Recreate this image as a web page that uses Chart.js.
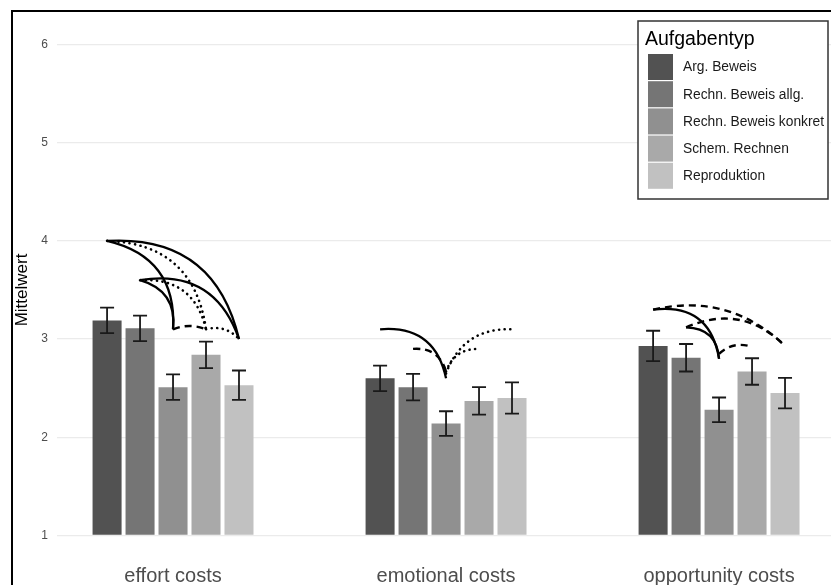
<!DOCTYPE html>
<html>
  <head>
    <meta charset="UTF-8" />
    <title>Mittelwerte nach Aufgabentyp</title>
    <style>
      html,
      body {
        margin: 0;
        padding: 0;
        background: #ffffff;
        overflow: hidden;
      }
    </style>
    <script src="https://cdn.jsdelivr.net/npm/chart.js"></script>
  </head>
  <body>
    <canvas id="chart" width="831" height="585"></canvas>
    <script>
      const categories = ["effort costs", "emotional costs", "opportunity costs"];
      const taskTypes = [
        "Arg. Beweis",
        "Rechn. Beweis allg.",
        "Rechn. Beweis konkret",
        "Schem. Rechnen",
        "Reproduktion",
      ];
      const argBeweis = [3.19, 2.6, 2.93];
      const rechnAllg = [3.11, 2.51, 2.81];
      const rechnKonkret = [2.51, 2.14, 2.28];
      const schemRechnen = [2.84, 2.37, 2.67];
      const reproduktion = [2.53, 2.4, 2.45];
      // halbe Länge der Fehlerbalken
      const argBeweisErr = [0.13, 0.13, 0.155];
      const rechnAllgErr = [0.13, 0.135, 0.14];
      const rechnKonkretErr = [0.13, 0.125, 0.125];
      const schemRechnenErr = [0.135, 0.14, 0.135];
      const reproduktionErr = [0.15, 0.16, 0.155];
      const yTicks = [1, 2, 3, 4, 5, 6];
      const greys = ["#525252", "#757575", "#909090", "#a9a9a9", "#c1c1c1"];

      // Bögen: [Kategorie, von Balken, von y, zu Balken, zu y, Linie, Krümmung]
      const arcs = [
        [0, 0, 4.0, 2, 3.1, "solid", 0.42],
        [0, 0, 4.0, 4, 3.0, "solid", 0.42],
        [0, 0, 4.0, 3, 3.1, "dotted", 0.42],
        [0, 1, 3.6, 2, 3.1, "solid", 0.42],
        [0, 1, 3.6, 4, 3.0, "solid", 0.42],
        [0, 1, 3.6, 3, 3.1, "dotted", 0.42],
        [0, 2, 3.1, 3, 3.1, "dashed", 0.2],
        [0, 3, 3.1, 4, 3.0, "dotted", 0.3],
        [1, 0, 3.1, 2, 2.6, "solid", 0.44],
        [1, 1, 2.9, 2, 2.67, "dashed", 0.4],
        [1, 2, 2.65, 4, 3.1, "dotted", 0.36],
        [1, 2, 2.67, 3, 2.9, "dotted", 0.36],
        [2, 0, 3.3, 2, 2.8, "solid", 0.48],
        [2, 0, 3.3, 4, 2.93, "dashed", 0.27],
        [2, 1, 3.12, 2, 2.8, "solid", 0.45],
        [2, 1, 3.12, 4, 2.93, "dashed", 0.34],
        [2, 2, 2.85, 3, 2.92, "dashed", 0.3],
      ];

      const series = [argBeweis, rechnAllg, rechnKonkret, schemRechnen, reproduktion];
      const errors = [argBeweisErr, rechnAllgErr, rechnKonkretErr, schemRechnenErr, reproduktionErr];
      const FONT = "'Liberation Sans', Arial, Helvetica, sans-serif";

      const errorBars = {
        id: "errorBars",
        afterDatasetsDraw(chart) {
          const ctx = chart.ctx;
          const y = chart.scales.y;
          ctx.save();
          ctx.strokeStyle = "#1a1a1a";
          ctx.lineWidth = 1.8;
          series.forEach((vals, i) => {
            chart.getDatasetMeta(i).data.forEach((bar, j) => {
              const top = y.getPixelForValue(vals[j] + errors[i][j]);
              const bot = y.getPixelForValue(vals[j] - errors[i][j]);
              ctx.beginPath();
              ctx.moveTo(bar.x, top);
              ctx.lineTo(bar.x, bot);
              ctx.moveTo(bar.x - 7, top);
              ctx.lineTo(bar.x + 7, top);
              ctx.moveTo(bar.x - 7, bot);
              ctx.lineTo(bar.x + 7, bot);
              ctx.stroke();
            });
          });
          ctx.restore();
        },
      };

      const curves = {
        id: "curves",
        afterDatasetsDraw(chart) {
          const ctx = chart.ctx;
          const y = chart.scales.y;
          ctx.save();
          ctx.strokeStyle = "#000000";
          arcs.forEach(([cat, from, fromY, to, toY, style, c]) => {
            const x1 = chart.getDatasetMeta(from).data[cat].x;
            const x2 = chart.getDatasetMeta(to).data[cat].x;
            const y1 = y.getPixelForValue(fromY);
            const y2 = y.getPixelForValue(toY);
            const dx = x2 - x1;
            const dy = y2 - y1;
            const cx = (x1 + x2) / 2 + dy * c;
            const cy = (y1 + y2) / 2 - dx * c;
            if (style === "dotted") {
              ctx.setLineDash([0.1, 5.5]);
              ctx.lineCap = "round";
              ctx.lineWidth = 2.6;
            } else if (style === "dashed") {
              ctx.setLineDash([7, 5]);
              ctx.lineCap = "butt";
              ctx.lineWidth = 2.4;
            } else {
              ctx.setLineDash([]);
              ctx.lineCap = "butt";
              ctx.lineWidth = 2.3;
            }
            ctx.beginPath();
            ctx.moveTo(x1, y1);
            ctx.quadraticCurveTo(cx, cy, x2, y2);
            ctx.stroke();
          });
          ctx.restore();
        },
      };

      const boxLegend = {
        id: "boxLegend",
        afterDraw(chart) {
          const ctx = chart.ctx;
          ctx.save();
          ctx.fillStyle = "#ffffff";
          ctx.fillRect(638, 21, 190, 178);
          ctx.strokeStyle = "#333333";
          ctx.lineWidth = 1.5;
          ctx.strokeRect(638, 21, 190, 178);
          ctx.fillStyle = "#000000";
          ctx.font = "19.5px " + FONT;
          ctx.textBaseline = "middle";
          ctx.fillText("Aufgabentyp", 645, 40);
          ctx.font = "13.8px " + FONT;
          chart.data.datasets.forEach((ds, i) => {
            const top = 54 + i * 27.2;
            ctx.fillStyle = ds.backgroundColor;
            ctx.fillRect(648, top, 25, 26);
            ctx.fillStyle = "#1a1a1a";
            ctx.fillText(ds.label, 683, top + 13.5);
          });
          // Rahmen um die ganze Grafik
          ctx.strokeStyle = "#000000";
          ctx.lineWidth = 2;
          ctx.strokeRect(12, 11, 900, 700);
          ctx.restore();
        },
      };

      const datasets = series.map((vals, i) => ({
        label: taskTypes[i],
        data: vals.map((v, j) => ({ x: j + 1, y: v })),
        backgroundColor: greys[i],
        base: 1,
        barPercentage: 0.88,
        categoryPercentage: 0.604,
      }));

      new Chart(document.getElementById("chart"), {
        type: "bar",
        data: { datasets: datasets },
        options: {
          responsive: false,
          animation: false,
          devicePixelRatio: 1,
          layout: { padding: { top: 20, left: 0, right: 0, bottom: 0 } },
          plugins: { legend: { display: false }, tooltip: { enabled: false } },
          scales: {
            x: {
              type: "linear",
              offset: false,
              min: 0.575,
              max: 3.41,
              grid: { display: false },
              border: { display: false },
              afterBuildTicks: (s) => {
                s.ticks = categories.map((c, i) => ({ value: i + 1 }));
              },
              afterFit: (s) => {
                s.height = 25;
              },
              ticks: {
                autoSkip: false,
                maxRotation: 0,
                padding: -4,
                color: "#4d4d4d",
                font: { family: FONT, size: 20 },
                callback: (v) => categories[v - 1],
              },
            },
            y: {
              min: 0.75,
              max: 6.25,
              afterBuildTicks: (s) => {
                s.ticks = yTicks.map((v) => ({ value: v }));
              },
              afterFit: (s) => {
                s.width = 57;
              },
              grid: { color: "#ebebeb", lineWidth: 1.3, drawTicks: false },
              border: { display: false },
              ticks: {
                padding: 9,
                color: "#4d4d4d",
                font: { family: FONT, size: 12 },
              },
              title: {
                display: true,
                text: "Mittelwert",
                color: "#000000",
                font: { family: FONT, size: 17 },
                padding: { top: 12, bottom: 0 },
              },
            },
          },
        },
        plugins: [errorBars, curves, boxLegend],
      });
    </script>
  </body>
</html>
